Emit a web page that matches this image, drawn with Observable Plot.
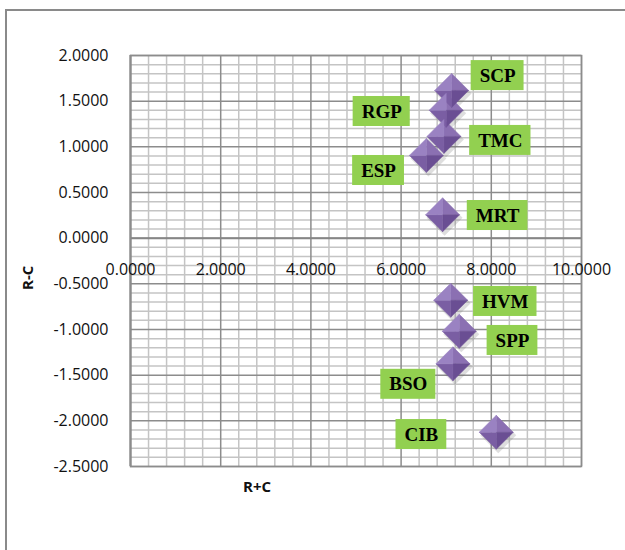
<!DOCTYPE html>
<html>
<head>
<meta charset="utf-8">
<script src="https://cdn.jsdelivr.net/npm/d3@7"></script>
<script src="https://cdn.jsdelivr.net/npm/@observablehq/plot@0.6"></script>
<style>
  html, body { margin: 0; padding: 0; background: #fff; overflow: hidden; }
  #wrap { position: relative; width: 625px; height: 550px; }
  #border { position: absolute; left: 5px; top: 9px; width: 640px; height: 560px;
            border-left: 2px solid #8a8a8a; border-top: 2px solid #8a8a8a; }
  #chart { position: absolute; left: 0; top: 0; }
</style>
</head>
<body>
<div id="wrap"><div id="border"></div><div id="chart"></div></div>
<script>
const names = ["SCP", "RGP", "TMC", "ESP", "MRT", "HVM", "SPP", "BSO", "CIB"];
const rPlusC = [7.12, 7.00, 6.95, 6.56, 6.92, 7.10, 7.29, 7.15, 8.11];
const rMinusC = [1.617, 1.40, 1.114, 0.906, 0.256, -0.68, -1.02, -1.376, -2.125];
const labelX = [8.14, 5.57, 8.20, 5.50, 8.14, 8.31, 8.47, 6.16, 6.45];
const labelY = [1.78, 1.387, 1.07, 0.741, 0.248, -0.693, -1.12, -1.60, -2.15];
const xTicks = [0, 2, 4, 6, 8, 10];
const yTicks = [2, 1.5, 1, 0.5, 0, -0.5, -1, -1.5, -2, -2.5];

const W = 625, H = 550, mL = 130, mR = 44, mT = 55, mB = 84;
const pxX = (W - mL - mR) / 10, pxY = (H - mT - mB) / 4.5;

const ctx = document.createElement("canvas").getContext("2d");
ctx.font = "bold 19px 'Liberation Serif'";
const data = names.map((n, i) => {
  const w = ctx.measureText(n).width + 17;
  return {name: n, x: rPlusC[i], y: rMinusC[i], lx: labelX[i], ly: labelY[i],
          x1: labelX[i] - w / 2 / pxX, x2: labelX[i] + w / 2 / pxX,
          y1: labelY[i] - 15 / pxY, y2: labelY[i] + 15 / pxY};
});

const minorX = d3.range(0, 10.001, 0.4).map(v => +v.toFixed(2)).filter(v => !xTicks.includes(v));
const minorY = d3.range(-2.5, 2.001, 0.1).map(v => +v.toFixed(2)).filter(v => !yTicks.includes(v));

function facet(k) {
  return {draw(c, size) {
    const h = Math.sqrt(size / Math.PI);
    const pts = [[0, -h], [h, 0], [0, h], [-h, 0]];
    const a = pts[k], b = pts[(k + 1) % 4];
    c.moveTo(0, 0); c.lineTo(a[0], a[1]); c.lineTo(b[0], b[1]); c.closePath();
  }};
}
const diamond = {draw(c, size) {
  const h = Math.sqrt(size / Math.PI);
  c.moveTo(0, -h); c.lineTo(h, 0); c.lineTo(0, h); c.lineTo(-h, 0); c.closePath();
}};
// facets: 0 top-right, 1 bottom-right, 2 bottom-left, 3 top-left
const facetColors = ["#8b70b2", "#6a4e93", "#7a5ea3", "#9a82c2"];

const plot = Plot.plot({
  width: W, height: H,
  marginLeft: mL, marginRight: mR, marginTop: mT, marginBottom: mB,
  x: {domain: [0, 10], axis: null},
  y: {domain: [-2.5, 2], axis: null},
  style: {fontFamily: "'Open Sans', sans-serif", fontSize: "16px", color: "#000", background: "transparent"},
  marks: [
    Plot.ruleX(minorX, {stroke: "#c4c4c4", strokeWidth: 1.5}),
    Plot.ruleY(minorY, {stroke: "#c4c4c4", strokeWidth: 1.5}),
    Plot.ruleX(xTicks, {stroke: "#8c8c8c", strokeWidth: 1.5}),
    Plot.ruleY(yTicks, {stroke: "#8c8c8c", strokeWidth: 1.5}),
    Plot.ruleY([0], {stroke: "#868686", strokeWidth: 2}),
    Plot.ruleX([0], {stroke: "#868686", strokeWidth: 2}),
    Plot.frame({stroke: "#8c8c8c", strokeWidth: 1.5}),
    Plot.axisY(yTicks, {tickSize: 0, tickPadding: 22, tickFormat: d => d.toFixed(4),
      fontSize: 16, fill: "#111"}),
    Plot.text(xTicks, {x: d => d, y: () => 0, text: d => d.toFixed(4), dy: 32,
      fontSize: 16, fill: "#111"}),
    Plot.text(["R+C"], {frameAnchor: "bottom", dx: -99, dy: 25, fontWeight: "bold", fontSize: 15, fill: "#111"}),
    Plot.text(["R-C"], {frameAnchor: "left", rotate: -90, dx: -102, dy: 29, fontWeight: "bold", fontSize: 15, fill: "#111"}),
    // shadows
    Plot.dot(data, {x: "x", y: "y", r: 18, symbol: diamond, fill: "#6b6b6b", fillOpacity: 0.22, dx: 2, dy: 3, stroke: null}),
    ...[0, 1, 2, 3].map(k => Plot.dot(data, {x: "x", y: "y", r: 17, symbol: facet(k), fill: facetColors[k], stroke: facetColors[k], strokeWidth: 0.5})),
    Plot.rect(data, {x1: "x1", x2: "x2", y1: "y1", y2: "y2", fill: "#92d050"}),
    Plot.text(data, {x: "lx", y: "ly", text: "name", fontFamily: "'Liberation Serif', serif",
      fontWeight: "bold", fontSize: 19, fill: "#000"})
  ]
});
document.getElementById("chart").appendChild(plot);
</script>
</body>
</html>
